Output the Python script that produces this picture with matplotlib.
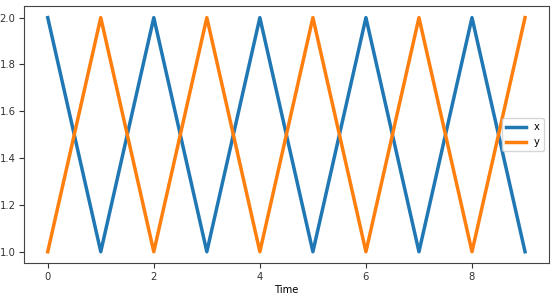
import matplotlib
matplotlib.use("Agg")
import matplotlib.pyplot as plt

time = [0, 1, 2, 3, 4, 5, 6, 7, 8, 9]
x_vals = [2, 1, 2, 1, 2, 1, 2, 1, 2, 1]
y_vals = [1, 2, 1, 2, 1, 2, 1, 2, 1, 2]

plt.rcParams['font.size'] = 7.2
fig = plt.figure(figsize=(5.55, 2.96), dpi=100)
ax = fig.add_axes([0.043, 0.11, 0.946, 0.87])
ax.plot(time, x_vals, lw=2.5, color='#1f77b4', label='x')
ax.plot(time, y_vals, lw=2.5, color='#ff7f0e', label='y')
ax.set_xlabel('Time', labelpad=2)
ax.tick_params(pad=2.5, colors='#333333')
ax.legend(loc='center right')
for s in ax.spines.values():
    s.set_color('#444444')
fig.savefig('out.png', dpi=100)
